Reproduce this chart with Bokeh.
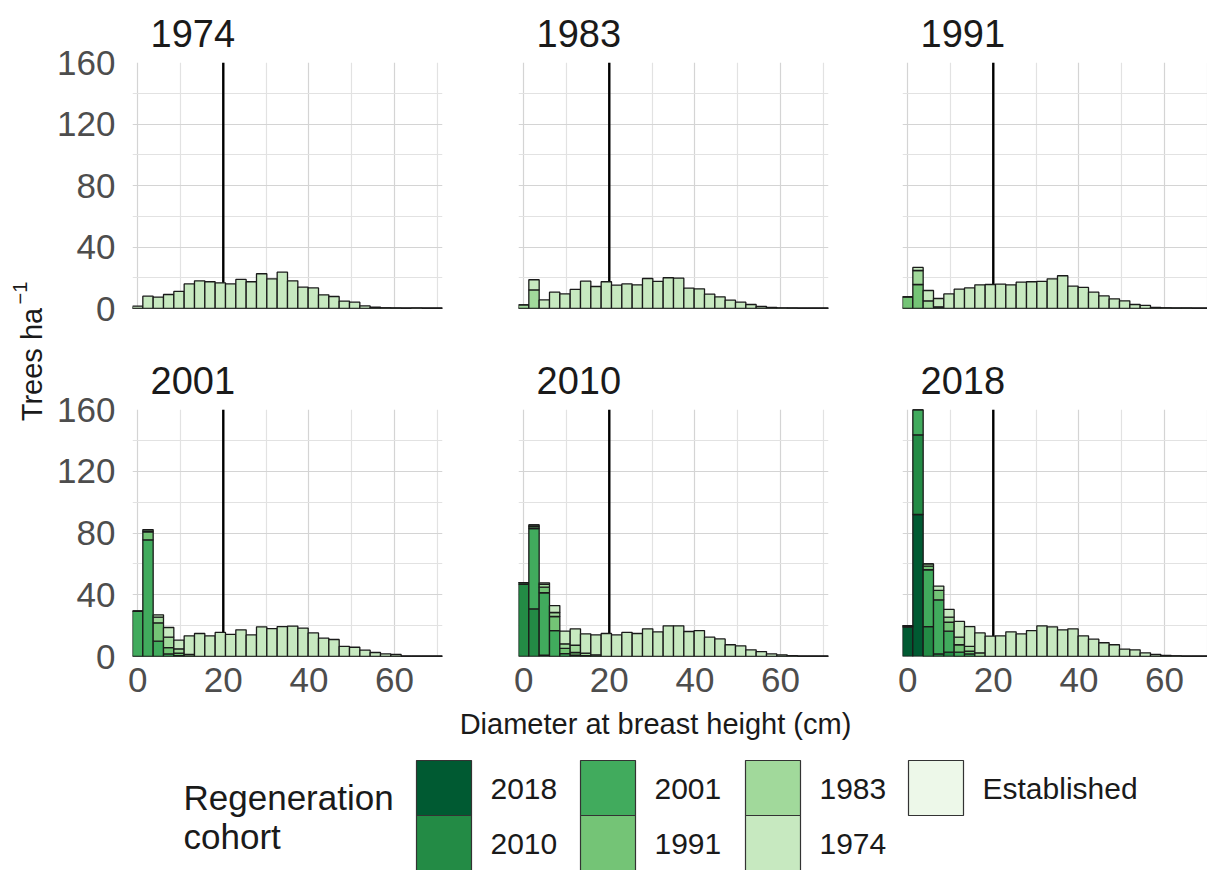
import math
from bokeh.plotting import figure
from bokeh.models import Range1d, FixedTicker, ColumnDataSource
from bokeh.layouts import row, column
from bokeh.embed import file_html
from bokeh.resources import INLINE
from bokeh.core.properties import value

FONT = "Liberation Sans"

# ---- data -----------------------------------------------------------------
# DBH histogram: 30 bins spanning 0-70 cm (bin centres), trees per hectare
n_bins = 30
dbh_max = 70.0
bin_width = dbh_max / (n_bins - 1)
dbh_mid = [i * bin_width for i in range(n_bins)]

threshold_dbh = 20  # cm, marked with a vertical line in every panel

inventories = ["1974", "1983", "1991", "2001", "2010", "2018"]
cohorts = ["2018", "2010", "2001", "1991", "1983", "1974", "Established"]
cohort_colors = ["#005A32", "#238B45", "#41AB5D", "#74C476", "#A1D99B", "#C7E9C0", "#EDF8E9"]

y_ticks = [0, 40, 80, 120, 160]
x_ticks = [0, 20, 40, 60]

# inventory 1974
inv1974_c1974 = [1.5, 8.0, 7.4, 9.1, 11.1, 16.0, 18.0, 17.4, 16.7, 16.0, 18.9, 17.4, 22.6, 19.3, 23.6,
                 18.0, 13.9, 13.4, 8.9, 7.8, 4.8, 4.1, 1.7, 0.9, 0.4, 0.2, 0.0, 0.3, 0.0, 0.0]

# inventory 1983
inv1983_c1983 = [2.4, 12.1]
inv1983_c1974 = [0.0, 6.6, 5.6, 10.6, 9.5, 12.4, 17.8, 14.3, 17.4, 15.2, 16.0, 15.4, 19.5, 17.6, 20.0,
                 19.7, 13.2, 12.8, 9.3, 7.6, 5.4, 4.1, 2.6, 1.3, 0.65, 0.3, 0.2, 0.0, 0.0, 0.0]

# inventory 1991
inv1991_c1991 = [7.6, 15.6, 0.0, 1.1]
inv1991_c1983 = [0.0, 9.1, 5.0]
inv1991_c1974 = [0.0, 2.0, 6.7, 5.4, 9.5, 12.6, 13.4, 15.4, 15.6, 15.8, 15.4, 17.1, 17.4, 17.6, 19.3,
                 21.3, 14.5, 13.7, 10.6, 8.2, 6.3, 5.0, 2.6, 2.0, 0.65, 0.4, 0.2, 0.2, 0.0, 0.0]

# inventory 2001
inv2001_c2001 = [29.4, 75.6, 9.9, 1.7, 0.5]
inv2001_c1991 = [0.0, 5.2, 11.9, 4.1, 1.7]
inv2001_c1983 = [0.0, 1.3, 3.7, 6.7, 2.8, 1.3]
inv2001_c1974 = [0.0, 0.0, 1.5, 6.3, 5.6, 12.1, 14.9, 13.4, 15.6, 14.3, 17.3, 14.0, 19.2, 18.1, 19.4,
                 19.7, 18.4, 15.3, 11.9, 11.0, 6.5, 6.0, 4.1, 2.6, 1.7, 1.3, 0.0, 0.0, 0.0, 0.0]

# inventory 2010
inv2010_c2010 = [46.7, 30.9, 0.9]
inv2010_c2001 = [1.2, 52.0, 40.4, 16.8, 1.9, 0.9]
inv2010_c1991 = [0.0, 1.3, 3.6, 9.1, 3.3, 1.7, 0.5]
inv2010_c1983 = [0.0, 1.1, 1.8, 2.6, 3.0, 4.7, 1.7, 1.1]
inv2010_c1974 = [0.0, 0.0, 1.0, 4.5, 8.2, 10.6, 12.5, 12.9, 14.9, 14.0, 15.6, 14.9, 17.9, 16.0, 19.9,
                 19.9, 16.2, 16.8, 12.5, 11.4, 7.6, 6.9, 4.3, 3.2, 1.7, 1.1, 0.6, 0.0, 0.0, 0.0]

# inventory 2018
inv2018_c2018 = [19.0, 92.0]
inv2018_c2010 = [0.9, 51.6, 19.4, 1.7, 2.8]
inv2018_c2001 = [0.0, 16.4, 36.8, 35.0, 13.6, 2.8, 1.7]
inv2018_c1991 = [0.0, 0.0, 2.3, 6.1, 5.8, 4.8, 1.8]
inv2018_c1983 = [0.0, 0.0, 1.5, 0.0, 3.3, 4.9, 3.0, 2.4]
inv2018_c1974 = [0.0, 0.0, 0.0, 2.8, 5.0, 10.2, 12.9, 12.9, 13.2, 13.4, 16.0, 14.7, 16.8, 19.9, 19.2,
                 17.3, 17.9, 13.4, 11.2, 8.9, 7.6, 4.8, 4.3, 2.4, 1.3, 0.65, 0.4, 0.0, 0.0, 0.0]

panel_data = {
    "1974": {"1974": inv1974_c1974},
    "1983": {"1983": inv1983_c1983, "1974": inv1983_c1974},
    "1991": {"1991": inv1991_c1991, "1983": inv1991_c1983, "1974": inv1991_c1974},
    "2001": {"2001": inv2001_c2001, "1991": inv2001_c1991, "1983": inv2001_c1983, "1974": inv2001_c1974},
    "2010": {"2010": inv2010_c2010, "2001": inv2010_c2001, "1991": inv2010_c1991,
             "1983": inv2010_c1983, "1974": inv2010_c1974},
    "2018": {"2018": inv2018_c2018, "2010": inv2018_c2010, "2001": inv2018_c2001,
             "1991": inv2018_c1991, "1983": inv2018_c1983, "1974": inv2018_c1974},
}


def full_length(vals):
    vals = list(vals)
    return vals + [0.0] * (n_bins - len(vals))


# ---- panels ---------------------------------------------------------------
stack_cohorts = cohorts[:-1]          # cohorts that appear in the bars
stack_colors = cohort_colors[:-1]
px_per_cm = 310 / (n_bins * bin_width)
x_start = -bin_width / 2

GRID_MAJOR = "#d4d4d4"
GRID_MINOR = "#e2e2e2"


def make_panel(year, col, r):
    fw = [310, 310, 305][col]
    fh = [246, 247][r]
    p = figure(
        frame_width=fw, frame_height=fh,
        x_range=Range1d(x_start, x_start + fw / px_per_cm),
        y_range=Range1d(0, 160),
        min_border_left=[82, 38, 38][col],
        min_border_right=[38, 36, 0][col],
        min_border_top=[62, 81][r],
        min_border_bottom=[20, 50][r],
        toolbar_location=None, output_backend="svg", title=year,
    )
    p.outline_line_color = None
    p.background_fill_color = "white"
    p.border_fill_color = "white"

    p.title.text_font = FONT
    p.title.text_font_size = "38px"
    p.title.text_font_style = "normal"
    p.title.text_color = "#1a1a1a"
    p.title.align = "left"
    p.title.offset = 18
    p.title.standoff = 32

    xt = FixedTicker(ticks=x_ticks, minor_ticks=[10, 30, 50, 70])
    yt = FixedTicker(ticks=y_ticks, minor_ticks=[20, 60, 100, 140])
    p.xaxis.ticker = xt
    p.yaxis.ticker = yt
    p.xgrid.ticker = xt
    p.ygrid.ticker = yt
    for g in (p.xgrid, p.ygrid):
        g.grid_line_color = GRID_MAJOR
        g.grid_line_width = 1.2
        g.minor_grid_line_color = GRID_MINOR
        g.minor_grid_line_width = 1.2

    for ax in (p.xaxis, p.yaxis):
        ax.axis_line_color = None
        ax.major_tick_line_color = None
        ax.minor_tick_line_color = None
        ax.major_label_text_font = FONT
        ax.major_label_text_font_size = "35px"
        ax.major_label_text_color = "#4d4d4d"
    p.yaxis.major_label_standoff = 11
    p.xaxis.major_label_standoff = 5

    if r == 0:
        p.xaxis.visible = False
    if col > 0:
        p.yaxis.visible = False

    # 20 cm threshold, drawn beneath the bars
    p.segment(x0=[threshold_dbh], y0=[0], x1=[threshold_dbh], y1=[160],
              line_color="black", line_width=2.4)

    data = {"x": dbh_mid}
    for c in stack_cohorts:
        data[c] = full_length(panel_data[year].get(c, []))
    src = ColumnDataSource(data)
    p.vbar_stack(stack_cohorts, x="x", width=bin_width, source=src,
                 fill_color=stack_colors, line_color="#1a1a1a", line_width=1.3)
    return p


panels = [make_panel(y, i % 3, i // 3) for i, y in enumerate(inventories)]

# ---- y-axis title ---------------------------------------------------------
ylab = figure(width=50, height=706, x_range=Range1d(0, 50), y_range=Range1d(706, 0),
              toolbar_location=None, output_backend="svg",
              min_border=0)
ylab.outline_line_color = None
ylab.axis.visible = False
ylab.grid.visible = False
ylab.text(x=[31], y=[364], text=["Trees ha"], angle=math.pi / 2,
          text_font=value(FONT), text_font_size="29px", text_color="#1a1a1a",
          text_align="center", text_baseline="middle")
ylab.text(x=[19], y=[304], text=["\u22121"], angle=math.pi / 2,
          text_font=value(FONT), text_font_size="20px", text_color="#1a1a1a",
          text_align="left", text_baseline="middle")

# ---- x-axis title and legend ----------------------------------------------
bottom = figure(width=1207, height=164, x_range=Range1d(0, 1207), y_range=Range1d(164, 0),
                toolbar_location=None, output_backend="svg", min_border=0)
bottom.outline_line_color = None
bottom.axis.visible = False
bottom.grid.visible = False

bottom.text(x=[655], y=[17], text=["Diameter at breast height (cm)"],
            text_font=value(FONT), text_font_size="29px", text_color="#1a1a1a",
            text_align="center", text_baseline="middle")

bottom.text(x=[183, 183], y=[91, 130], text=["Regeneration", "cohort"],
            text_font=value(FONT), text_font_size="35px", text_color="#1a1a1a",
            text_align="left", text_baseline="middle")

key_left, key_right, key_top, key_bottom, lab_x, lab_y = [], [], [], [], [], []
col_lefts = [416, 580, 745, 908]
row_tops = [54, 109]
for i, c in enumerate(cohorts):
    ci, ri = divmod(i, 2)
    key_left.append(col_lefts[ci])
    key_right.append(col_lefts[ci] + 55)
    key_top.append(row_tops[ri])
    key_bottom.append(row_tops[ri] + 55)
    lab_x.append(col_lefts[ci] + 74)
    lab_y.append(row_tops[ri] + 28)

bottom.quad(left=key_left, right=key_right, top=key_top, bottom=key_bottom,
            fill_color=cohort_colors, line_color="#333333", line_width=1.2)
bottom.text(x=lab_x, y=lab_y, text=cohorts,
            text_font=value(FONT), text_font_size="30px", text_color="#1a1a1a",
            text_align="left", text_baseline="middle")

layout = column(
    row(ylab, column(row(*panels[:3]), row(*panels[3:]))),
    bottom,
)

with open("out.html", "w") as f:
    f.write(file_html(layout, INLINE))
